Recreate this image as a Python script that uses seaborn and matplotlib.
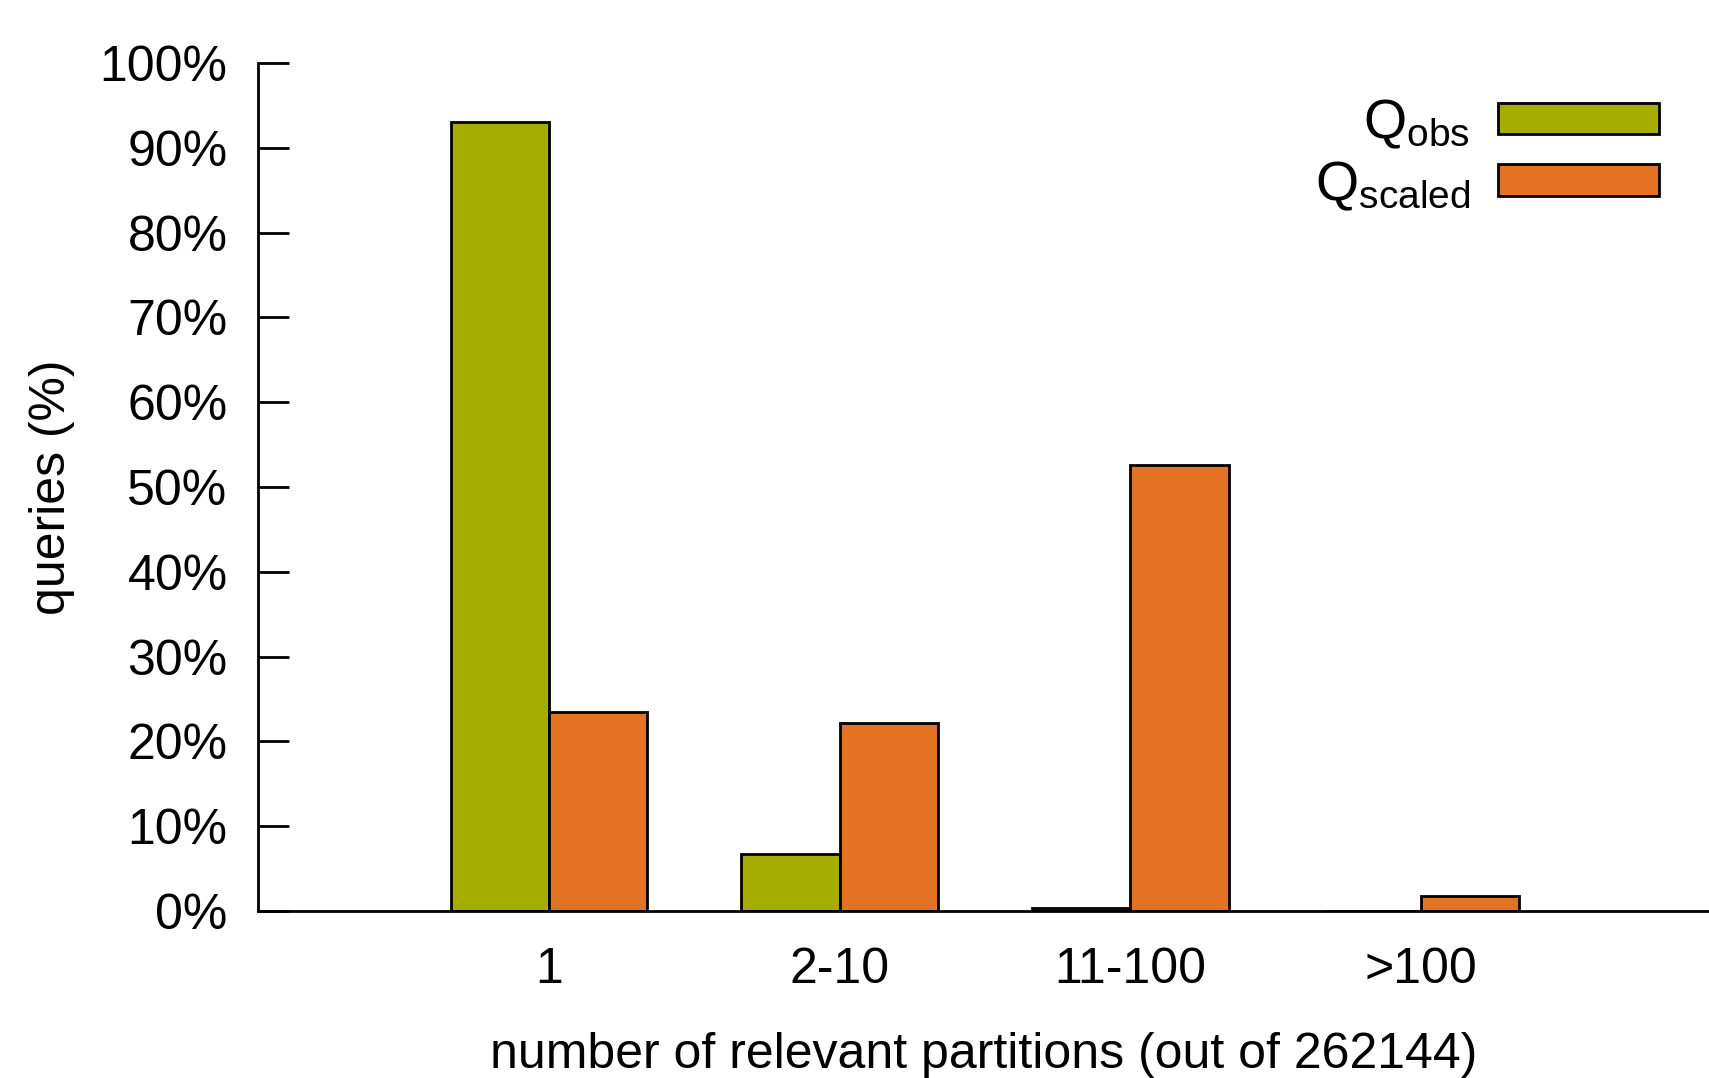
import matplotlib
matplotlib.use("Agg")
import matplotlib.pyplot as plt
import seaborn as sns
import pandas as pd

categories = ["1", "2-10", "11-100", ">100"]
q_obs = [93.0, 6.7, 0.3, 0.0]
q_scaled = [23.4, 22.2, 52.6, 1.8]
series_names = [r"$\mathregular{Q_{obs}}$", r"$\mathregular{Q_{scaled}}$"]
colors = ["#A5AE00", "#E37222"]

sns.set_theme(style="white")
plt.rcParams["font.family"] = ["Liberation Sans", "DejaVu Sans"]
plt.rcParams["text.color"] = "black"
plt.rcParams["axes.labelcolor"] = "black"
plt.rcParams["xtick.color"] = "black"
plt.rcParams["ytick.color"] = "black"

df = pd.DataFrame({
    "cat": categories * 2,
    "val": q_obs + q_scaled,
    "series": [series_names[0]] * 4 + [series_names[1]] * 4,
})

fig = plt.figure(figsize=(17.09, 10.78), dpi=100)
ax = fig.add_axes([0.151, 0.155, 0.849, 0.7866])
sns.barplot(data=df, x="cat", y="val", hue="series", order=categories,
            hue_order=series_names, palette=colors, width=0.675, gap=0,
            edgecolor="black", linewidth=2, saturation=1, ax=ax, legend=True)

ax.set_xlim(-1, 3.99)
ax.set_ylim(0, 100)
ax.set_yticks(range(0, 101, 10))
ax.set_yticklabels([f"{v}%" for v in range(0, 101, 10)])
ax.tick_params(axis="y", direction="in", length=22, width=2, labelsize=36, pad=22, left=True)
ax.tick_params(axis="x", length=0, labelsize=36, pad=26)
for s in ["top", "right"]:
    ax.spines[s].set_visible(False)
for s in ["left", "bottom"]:
    ax.spines[s].set_color("black")
    ax.spines[s].set_linewidth(2)
ax.set_ylabel("queries (%)", fontsize=36, labelpad=18)
ax.set_xlabel("number of relevant partitions (out of 262144)", fontsize=36, labelpad=28)

handles, labels = ax.get_legend_handles_labels()
ax.legend(handles, labels, loc="upper right", frameon=False, fontsize=40,
          markerfirst=False, handlelength=2.9, handleheight=0.5,
          labelspacing=0.15, handletextpad=0.5, bbox_to_anchor=(1.0, 1.018))

fig.savefig("out.png", dpi=100)
